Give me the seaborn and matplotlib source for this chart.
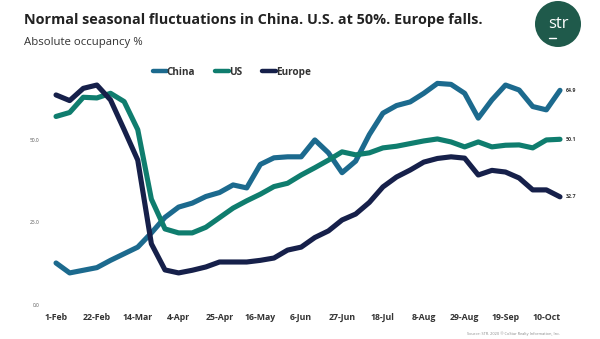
import matplotlib
matplotlib.use("Agg")
import matplotlib.pyplot as plt
from matplotlib.patches import Circle
import pandas as pd
import seaborn as sns

# ---- data -------------------------------------------------------------
weeks = list(range(38))
tick_pos = [0, 3, 6, 9, 12, 15, 18, 21, 24, 27, 30, 33, 36]
tick_labels = ["1-Feb", "22-Feb", "14-Mar", "4-Apr", "25-Apr", "16-May", "6-Jun",
               "27-Jun", "18-Jul", "8-Aug", "29-Aug", "19-Sep", "10-Oct"]

china = [12.7, 9.7, 10.5, 11.3, 13.5, 15.5, 17.5, 21.8, 26.5, 29.6, 30.8, 32.8,
         34.0, 36.3, 35.4, 42.5, 44.5, 44.8, 44.8, 49.9, 46.0, 40.0, 43.5, 51.5,
         58.0, 60.3, 61.4, 64.0, 67.0, 66.7, 64.0, 56.5, 62.0, 66.5, 65.0, 60.0,
         59.0, 64.9]
us = [57.0, 58.2, 62.8, 62.6, 64.0, 61.5, 53.0, 32.0, 23.0, 21.8, 21.8, 23.5,
      26.4, 29.3, 31.5, 33.5, 35.8, 36.8, 39.3, 41.5, 43.8, 46.3, 45.4, 46.0,
      47.5, 48.0, 48.8, 49.6, 50.2, 49.3, 47.8, 49.3, 47.8, 48.3, 48.4, 47.5,
      49.9, 50.1]
europe = [63.5, 61.8, 65.5, 66.5, 62.0, 53.0, 43.8, 18.5, 10.6, 9.7, 10.5, 11.5,
          13.0, 13.0, 13.0, 13.5, 14.2, 16.6, 17.5, 20.4, 22.4, 25.7, 27.5, 31.0,
          35.7, 38.7, 40.8, 43.2, 44.3, 44.8, 44.4, 39.3, 40.7, 40.2, 38.4, 34.8,
          34.8, 32.7]

series_names = ["China", "US", "Europe"]
colors = {"China": "#1c6a8e", "US": "#0f7d6e", "Europe": "#16204a"}
end_labels = ["64.9", "50.1", "32.7"]

df = pd.DataFrame({"week": weeks * 3,
                   "value": china + us + europe,
                   "region": sum([[n] * len(weeks) for n in series_names], [])})

# ---- figure -----------------------------------------------------------
sns.set_theme(style="white")
plt.rcParams["font.family"] = ["Open Sans", "DejaVu Sans"]

fig = plt.figure(figsize=(6.0, 3.39), dpi=100)
ax = fig.add_axes([0.08, 0.1003, 0.8617, 0.683])

sns.lineplot(data=df, x="week", y="value", hue="region", hue_order=series_names,
             palette=colors, linewidth=3.7, ax=ax, legend=True,
             solid_joinstyle="round", solid_capstyle="round")

ax.set_xlim(-0.59, 37.37)
ax.set_ylim(0, 70)
ax.set_xticks(tick_pos)
ax.set_xticklabels(tick_labels, fontsize=6.3, fontweight="bold", color="#333333")
ax.set_yticks([0, 25, 50])
ax.set_yticklabels(["0.0", "25.0", "50.0"], fontsize=3.5, color="#555555")
ax.tick_params(axis="x", length=0, pad=6)
ax.tick_params(axis="y", length=0, pad=6)
ax.set_xlabel("")
ax.set_ylabel("")
for s in ax.spines.values():
    s.set_visible(False)
ax.grid(False)

# end labels
for vals, lab in zip([china, us, europe], end_labels):
    ax.annotate(lab, xy=(weeks[-1], vals[-1]), xytext=(4, 0),
                textcoords="offset points", va="center", ha="left",
                fontsize=3.8, fontweight="bold", color="#333333")

# legend
leg = ax.legend(loc="center left", bbox_to_anchor=(0.195, 1.005), ncol=3,
                frameon=False, handlelength=1.4, handletextpad=0.0,
                columnspacing=2.0, borderaxespad=0,
                prop={"size": 7.2, "weight": "bold"})
for line in leg.get_lines():
    line.set_linewidth(3.2)
for t in leg.get_texts():
    t.set_color("#333333")

# titles
fig.text(24 / 600, 1 - 20 / 339, "Normal seasonal fluctuations in China. U.S. at 50%. Europe falls.",
         fontsize=10.4, fontweight="bold", color="#222222", va="center", ha="left")
fig.text(24 / 600, 1 - 43 / 339, "Absolute occupancy %",
         fontsize=8.2, color="#333333", va="center", ha="left")

# logo
circ = Circle((558, 339 - 24), 23, transform=None, facecolor="#1f5a4b",
              edgecolor="none")
fig.patches.append(circ)
fig.text(558 / 600, 1 - 24 / 339, "str", fontsize=12, color="white",
         ha="center", va="center")
fig.add_artist(plt.Line2D([549 / 600, 556 / 600], [1 - 38 / 339, 1 - 38 / 339],
                          color="white", linewidth=1.0))

# source
fig.text(560 / 600, 1 - 334 / 339,
         "Source: STR. 2020 \u00a9 CoStar Realty Information, Inc.",
         fontsize=2.8, color="#888888", ha="right", va="center")

fig.savefig("out.png", dpi=100)
